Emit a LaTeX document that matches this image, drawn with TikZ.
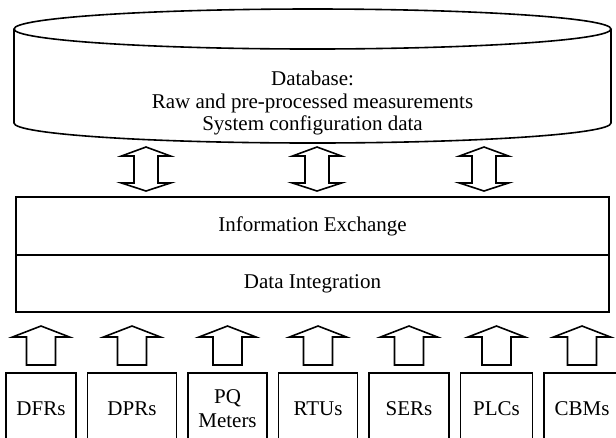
\documentclass[tikz,border=0pt]{standalone}
\usepackage{fontspec}
\setmainfont{Liberation Serif}
\usetikzlibrary{positioning}

\begin{document}
\begin{tikzpicture}[x=0.75pt,y=-0.75pt,inner sep=0pt,outer sep=0pt,very thick,
font=\fontsize{15.75}{16.6}\selectfont,
layerbox/.style={draw,rectangle,minimum width=444.75pt,minimum height=43.5pt,very thick},
srcbox/.style={draw,rectangle,align=center,minimum height=54pt,very thick}]

\useasboundingbox (0,0) rectangle (616,437);
\clip (0,0) rectangle (616,437);

% database
\draw (312.5,29) ellipse [x radius=298.5,y radius=20];
\draw (14,29) -- (14,123) arc [start angle=180,end angle=0,x radius=298.5,y radius=20] -- (611,29);
\draw (312.5,103) node[align=center] (db) {Database:\\Raw and pre-processed measurements\\System configuration data};

% layers
\draw (16,197) node[layerbox,anchor=north west] (exch) {Information Exchange};
\node[layerbox,minimum height=42.75pt,below=0pt of exch] (integ) {Data Integration};

% sources
\draw (6,373) node[srcbox,minimum width=52.5pt,anchor=north west] (dfr) {DFRs};
\node[srcbox,minimum width=66.75pt,right=8.625pt of dfr] (dpr) {DPRs};
\node[srcbox,minimum width=59.25pt,right=8.625pt of dpr] (pqm) {PQ\\[1.5pt]Meters};
\node[srcbox,minimum width=59.25pt,right=8.625pt of pqm] (rtu) {RTUs};
\node[srcbox,minimum width=60pt,right=8.625pt of rtu] (ser) {SERs};
\node[srcbox,minimum width=54pt,right=8.625pt of ser] (plc) {PLCs};
\node[srcbox,minimum width=57pt,right=8.625pt of plc] (cbm) {CBMs};

% block arrows
\foreach \x in {146,317,484}
  \draw (\x-12,156) -- (\x-24.5,156) -- (\x,147) -- (\x+24.5,156) -- (\x+12,156)
    -- (\x+12,183) -- (\x+24.5,183) -- (\x,191) -- (\x-24.5,183) -- (\x-12,183) -- cycle;
\foreach \n in {dfr,dpr,pqm,rtu,ser,plc,cbm}
  \draw (\n.north) ++(-14.5,-8) -- ++(0,-28) -- ++(-14,0) -- ++(28.5,-11) -- ++(28.5,11)
    -- ++(-14,0) -- ++(0,28) -- cycle;

\end{tikzpicture}
\end{document}
